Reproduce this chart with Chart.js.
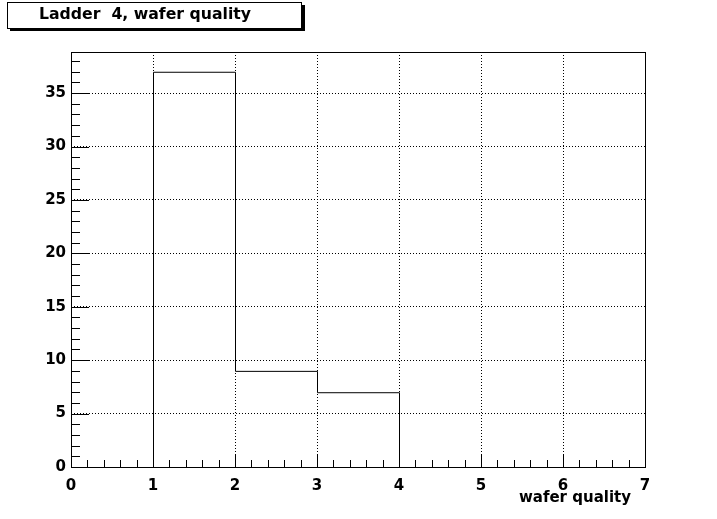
<!DOCTYPE html>
<html>
<head>
<meta charset="utf-8">
<script src="https://cdn.jsdelivr.net/npm/chart.js@4/dist/chart.umd.min.js"></script>
<style>
  html, body { margin: 0; padding: 0; background: #fff; }
  #wrap { width: 717px; height: 519px; }
</style>
</head>
<body>
<div id="wrap"><canvas id="histo" width="717" height="519"></canvas></div>
<script>
// histogram data
const binEdges = [0, 1, 2, 3, 4, 5, 6, 7];
const binCounts = [0, 37, 9, 7, 0, 0, 0];
const xTicks = [0, 1, 2, 3, 4, 5, 6, 7];
const yTicks = [0, 5, 10, 15, 20, 25, 30, 35];
const histTitle = 'Ladder  4, wafer quality';
const xTitle = 'wafer quality';

const yMax = Math.max(...binCounts) * 1.05;
const labelFont = { family: 'DejaVu Sans', size: 15, weight: 'bold' };

// step outline: each edge carries the count of the bin to its right
const points = binEdges.map((e, i) => ({ x: e, y: binCounts[Math.min(i, binCounts.length - 1)] }));

// frame, inward ticks, title box, axis title
const rootStyle = {
  id: 'rootStyle',
  beforeDatasetsDraw(chart) {
    // half pixel shift so the 1px outline is crisp
    chart.ctx.save();
    chart.ctx.translate(0.5, 0.5);
  },
  afterDatasetsDraw(chart) {
    const { ctx, chartArea: a, scales: { x, y } } = chart;
    ctx.restore();
    ctx.save();
    ctx.strokeStyle = '#000';
    ctx.lineWidth = 1;
    ctx.strokeRect(a.left + 0.5, a.top + 0.5, a.right - a.left, a.bottom - a.top);
    ctx.beginPath();
    for (let v = 0; v <= y.max + 1e-9; v += 1) {
      const py = Math.round(y.getPixelForValue(v)) + 0.5;
      const len = (v % 5 === 0) ? 18 : 9;
      ctx.moveTo(a.left, py);
      ctx.lineTo(a.left + len, py);
    }
    for (let i = 0; i <= x.max * 5; i++) {
      const px = Math.round(x.getPixelForValue(i / 5)) + 0.5;
      const len = (i % 5 === 0) ? 13 : 7;
      ctx.moveTo(px, a.bottom);
      ctx.lineTo(px, a.bottom - len);
    }
    ctx.stroke();
    ctx.restore();
  },
  afterDraw(chart) {
    const { ctx } = chart;
    ctx.save();
    // title box with shadow
    ctx.fillStyle = '#000';
    ctx.fillRect(10, 5, 295, 26);
    ctx.fillStyle = '#fff';
    ctx.fillRect(7, 2, 295, 26);
    ctx.strokeStyle = '#000';
    ctx.lineWidth = 1;
    ctx.strokeRect(7.5, 2.5, 294, 26);
    ctx.fillStyle = '#000';
    ctx.font = 'bold 16px "DejaVu Sans"';
    ctx.textBaseline = 'middle';
    ctx.textAlign = 'left';
    ctx.fillText(histTitle, 39, 15, 212);
    // x axis title
    ctx.font = 'bold 15px "DejaVu Sans"';
    ctx.textAlign = 'right';
    ctx.fillText(xTitle, 631, 498);
    ctx.restore();
  }
};

new Chart(document.getElementById('histo'), {
  type: 'line',
  data: {
    datasets: [{
      data: points,
      stepped: 'before',
      borderColor: '#000',
      borderWidth: 1,
      pointRadius: 0,
      fill: false
    }]
  },
  options: {
    responsive: false,
    animation: false,
    layout: { padding: { top: 52, right: 72, left: 0, bottom: 0 } },
    plugins: { legend: { display: false }, tooltip: { enabled: false } },
    scales: {
      x: {
        type: 'linear',
        min: 0,
        max: 7,
        afterBuildTicks: s => { s.ticks = xTicks.map(v => ({ value: v })); },
        afterFit: s => { s.height = 52; },
        ticks: { color: '#000', font: labelFont, padding: 10, maxRotation: 0 },
        grid: { color: '#000', lineWidth: 1, drawTicks: false },
        border: { display: false, dash: [1, 2] }
      },
      y: {
        min: 0,
        max: yMax,
        afterBuildTicks: s => { s.ticks = yTicks.map(v => ({ value: v })); },
        afterFit: s => { s.width = 71; },
        ticks: { color: '#000', font: labelFont, padding: 5 },
        grid: { color: '#000', lineWidth: 1, drawTicks: false },
        border: { display: false, dash: [1, 2] }
      }
    }
  },
  plugins: [rootStyle]
});
</script>
</body>
</html>
